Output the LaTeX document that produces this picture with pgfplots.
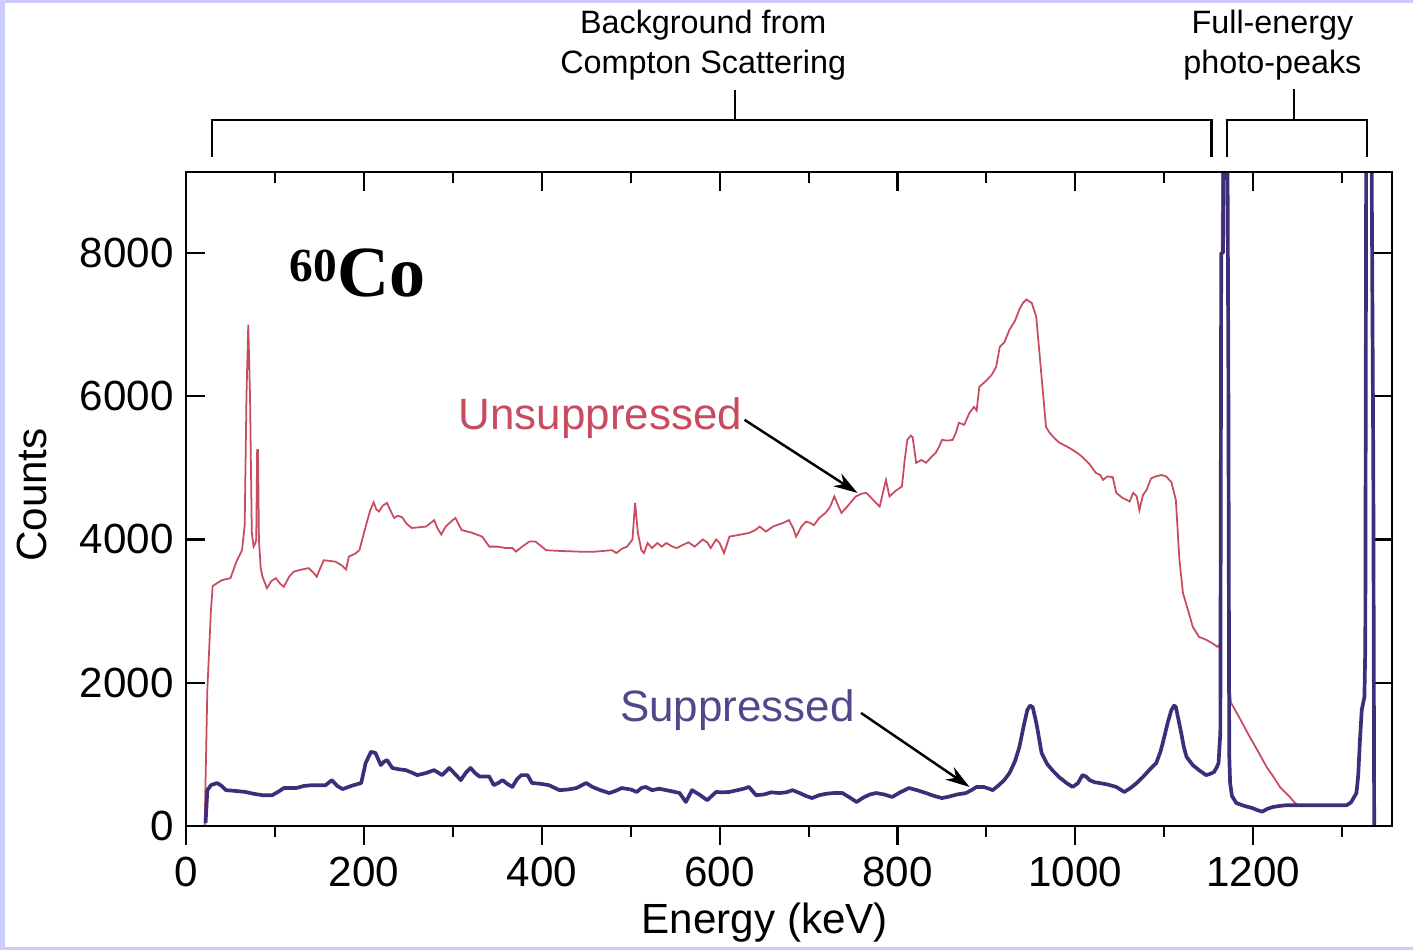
\documentclass[border=0pt]{standalone}
\usepackage{fontspec}
\setmainfont{Liberation Sans}
\newfontfamily\coserif{Liberation Serif}
\usepackage{pgfplots}
\pgfplotsset{compat=1.18}
\usetikzlibrary{arrows.meta}

\definecolor{unsup}{RGB}{200,75,95}
\definecolor{suppline}{RGB}{62,46,122}
\definecolor{supptext}{RGB}{85,70,140}
\definecolor{edge}{RGB}{204,204,255}

\pgfplotsset{
  specframe/.style={
    at={(1.86cm,1.24cm)}, anchor=south west,
    scale only axis, width=12.06cm, height=6.54cm,
    xmin=0, xmax=1356, ymin=0, ymax=9130,
    xtick={0,200,...,1200}, minor xtick={100,300,...,1300},
    ytick={0,2000,...,8000},
    major tick length=0.19cm, minor tick length=0.11cm,
    every tick/.style={black, line width=0.6pt},
    axis line style={line width=0.6pt},
    scaled ticks=false,
    /pgf/number format/1000 sep={},
    /pgf/number format/assume math mode=true,
    tick label style={font=\fontsize{12}{14}\selectfont},
    label style={font=\fontsize{12}{14}\selectfont},
  }
}

\begin{document}
\begin{tikzpicture}
\path[use as bounding box] (0,0) rectangle (14.13,9.5);
\fill[edge] (0,0) rectangle (14.13,9.5);
\fill[white] (0.05,0.03) rectangle (14.13,9.47);

% bottom ticks point out, the other sides point in: two axes on top of each other
\begin{axis}[specframe,
    tick align=inside,
    xtick pos=right, xticklabels={},
    ytick pos=both, yticklabel pos=left,
    ylabel={Counts},
    ylabel style={at={(axis description cs:-0.128,0.506)}, anchor=center},
    clip mode=individual]

  % unsuppressed spectrum
  \addplot[unsup, line width=0.5pt] coordinates {
    (21,0) (24,1900) (28,3000) (30,3350) (40,3430) (50,3460) (57,3700)
    (63,3850) (66,4200) (68,6000) (70,7000) (72,6000) (74,4100) (76,3900)
    (78,3950) (79,4000) (80,5250) (81,5250) (82,4000) (84,3600) (86,3480)
    (91,3320) (96,3420) (101,3460) (106,3380) (110,3340) (116,3480)
    (121,3550) (130,3580) (138,3600) (143,3540) (147,3480) (151,3600)
    (155,3710) (162,3700) (168,3690) (175,3640) (180,3580) (183,3760)
    (190,3800) (195,3850) (202,4180) (207,4400) (211,4520) (214,4420)
    (217,4390) (221,4470) (226,4510) (230,4400) (234,4300) (238,4330)
    (243,4310) (248,4220) (254,4160) (262,4170) (270,4180) (275,4230)
    (279,4270) (283,4150) (287,4070) (292,4180) (298,4250) (303,4300)
    (307,4200) (310,4130) (320,4100) (333,4040) (341,3900) (350,3900)
    (360,3880) (367,3880) (371,3830) (378,3900) (386,3970) (393,3970)
    (400,3900) (405,3850) (420,3840) (442,3830) (460,3830) (479,3850)
    (484,3810) (490,3870) (496,3900) (502,4000) (505,4510) (508,4100)
    (512,3850) (515,3810) (519,3950) (524,3880) (530,3950) (535,3900)
    (540,3950) (547,3900) (552,3880) (558,3920) (565,3960) (572,3900)
    (581,4000) (586,3960) (590,3880) (596,4000) (600,3950) (605,3810)
    (611,4040) (620,4060) (633,4090) (640,4130) (645,4180) (652,4110)
    (660,4180) (671,4230) (678,4270) (683,4150) (686,4040) (692,4180)
    (697,4250) (702,4230) (706,4200) (712,4300) (719,4370) (724,4450)
    (729,4600) (733,4480) (737,4370) (745,4480) (753,4600) (760,4640)
    (765,4650) (772,4560) (780,4460) (787,4830) (791,4600) (798,4680)
    (805,4740) (808,5100) (811,5390) (815,5450) (817,5430) (821,5070)
    (827,5110) (832,5070) (838,5150) (843,5210) (847,5300) (850,5390)
    (856,5380) (862,5390) (866,5500) (869,5630) (875,5600) (881,5770)
    (886,5850) (889,5800) (892,6130) (900,6220) (906,6300) (911,6410)
    (915,6690) (920,6750) (926,6930) (932,7050) (937,7210) (941,7300)
    (945,7350) (951,7300) (956,7110) (962,6270) (967,5570) (971,5490)
    (976,5420) (982,5350) (990,5300) (997,5250) (1003,5200) (1008,5150)
    (1016,5050) (1023,4930) (1028,4900) (1031,4830) (1036,4880)
    (1042,4870) (1046,4650) (1053,4580) (1058,4550) (1061,4530)
    (1065,4650) (1069,4600) (1072,4410) (1076,4620) (1080,4690)
    (1085,4850) (1090,4880) (1097,4900) (1102,4880) (1108,4800)
    (1113,4550) (1117,3715) (1121,3250) (1127,3000) (1132,2780)
    (1139,2640) (1147,2600) (1154,2550) (1160,2500) (1163,2550)
    (1165,9500) (1171,9500) (1173,2000) (1175,1720) (1185,1500)
    (1196,1245) (1205,1050) (1215,825) (1222,700) (1230,545) (1240,420)
    (1247,320) (1250,300)
  };

  % suppressed spectrum
  \addplot[suppline, line width=1.05pt, line join=round] coordinates {
    (22,40) (24,500) (28,570) (35,600) (40,560) (45,500) (55,490) (67,475)
    (76,450) (86,430) (97,430) (104,480) (110,530) (124,530) (133,560)
    (142,570) (150,570) (157,570) (164,640) (170,560) (176,515) (186,560)
    (197,600) (202,880) (208,1035) (213,1020) (219,850) (223,900)
    (226,920) (232,810) (240,790) (247,780) (255,740) (260,710) (270,740)
    (279,780) (288,710) (296,810) (303,720) (309,640) (315,750) (320,810)
    (325,740) (330,690) (341,690) (346,570) (351,600) (356,640) (361,590)
    (367,545) (372,650) (377,710) (384,710) (389,600) (398,590) (408,570)
    (420,500) (430,510) (439,530) (450,600) (457,545) (466,500) (476,460)
    (483,490) (490,530) (500,510) (507,475) (512,530) (517,545) (524,500)
    (532,520) (540,500) (548,480) (555,460) (562,335) (569,500) (577,440)
    (586,360) (596,475) (603,470) (611,475) (620,500) (627,520) (633,545)
    (641,430) (650,440) (658,470) (667,460) (675,470) (682,500) (690,460)
    (697,420) (704,390) (712,430) (720,450) (728,460) (738,460) (746,400)
    (754,335) (762,400) (769,440) (776,460) (785,440) (794,405) (803,470)
    (813,530) (822,500) (832,460) (841,420) (850,390) (858,410) (867,440)
    (877,460) (883,500) (889,545) (897,545) (903,520) (907,500) (913,560)
    (920,640) (926,740) (932,900) (937,1100) (942,1400) (946,1620)
    (949,1680) (952,1660) (955,1500) (957,1380) (962,1020) (968,870)
    (974,780) (982,680) (990,600) (997,545) (1003,600) (1008,710)
    (1012,690) (1016,640) (1022,610) (1027,600) (1036,580) (1046,545)
    (1055,475) (1062,530) (1069,600) (1076,685) (1083,780) (1091,880)
    (1096,1050) (1100,1245) (1104,1450) (1108,1620) (1111,1680)
    (1113,1660) (1116,1480) (1119,1300) (1122,1100) (1125,965) (1132,850)
    (1139,780) (1147,710) (1152,730) (1156,755) (1159,820) (1161,880)
    (1163,1300) (1164,8000) (1166,8000) (1167,9500) (1171,9500)
    (1172,6400) (1173,1000) (1174,600) (1176,420) (1181,320) (1190,280)
    (1199,250) (1205,220) (1210,200) (1216,240) (1222,265) (1230,280)
    (1237,290) (1305,290) (1310,330) (1316,460) (1318,700) (1320,1200)
    (1322,1620) (1325,1800) (1326,2500) (1327,9500) (1333,9500)
    (1335,5000) (1336,0)
  };

  \node[anchor=base west, inner sep=0pt] at (axis cs:116,7390)
    {\coserif\bfseries\raisebox{4.4pt}{\fontsize{13.5}{14}\selectfont 60}\fontsize{20.5}{24}\selectfont Co};

  \node[unsup, font=\fontsize{12.5}{14}\selectfont] at (axis cs:466,5698) {Unsuppressed};
  \draw[line width=0.7pt, -{Stealth[length=0.24cm, width=0.15cm]}]
    (axis cs:628,5670) -- (axis cs:755,4650);
  \node[supptext, font=\fontsize{12.5}{14}\selectfont] at (axis cs:620,1620) {Suppressed};
  \draw[line width=0.7pt, -{Stealth[length=0.24cm, width=0.15cm]}]
    (axis cs:759,1578) -- (axis cs:881,545);

  % brackets over the spectrum regions
  \draw[line width=0.6pt] (axis cs:29,9344) -- (axis cs:29,9860)
    -- (axis cs:1153,9860) -- (axis cs:1153,9344);
  \draw[line width=0.6pt] (axis cs:617.5,9860) -- (axis cs:617.5,10280);
  \draw[line width=0.6pt] (axis cs:1170,9344) -- (axis cs:1170,9860)
    -- (axis cs:1328,9860) -- (axis cs:1328,9344);
  \draw[line width=0.6pt] (axis cs:1246,9860) -- (axis cs:1246,10290);
  \node[align=center, font=\fontsize{9.2}{11.4}\selectfont, inner sep=0pt]
    at (axis cs:581.5,10900) {Background from\\Compton Scattering};
  \node[align=center, font=\fontsize{9.2}{11.4}\selectfont, inner sep=0pt]
    at (axis cs:1221.6,10900) {Full-energy\\photo-peaks};
\end{axis}

\begin{axis}[specframe,
    tick align=outside,
    xtick pos=left,
    hide y axis,
    xlabel={Energy (keV)},
    xlabel style={at={(axis description cs:0.48,-0.147)}, anchor=center}]
  \addplot[draw=none] coordinates {(0,0) (1356,9130)};
\end{axis}
\end{tikzpicture}
\end{document}
